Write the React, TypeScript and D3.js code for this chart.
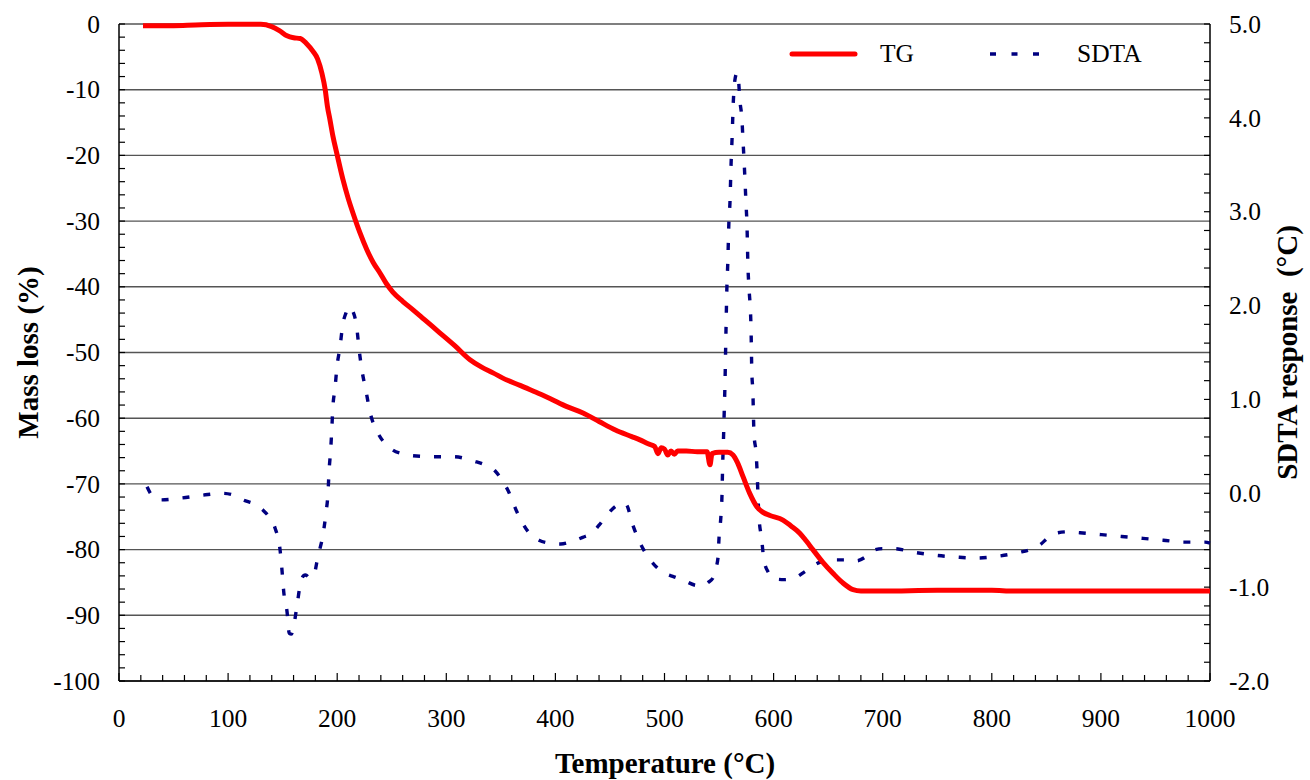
import React from "react";
import * as d3 from "d3";

// Thermogravimetric curve: temperature (°C) and mass loss (%)
const tgTemp = [22, 50, 70, 100, 130, 140, 147, 154, 160, 166, 172, 178, 182, 186, 189, 191, 193.4, 196, 199.8, 205.3, 210, 214.5, 220.9, 227.3, 233, 239.2, 245, 251, 260, 269.5, 280, 294, 308, 321.7, 332, 342.8, 355.6, 367.6, 380, 395, 410, 425.3, 440, 455, 470, 477.5, 485, 491, 494, 497, 500, 503, 506, 509, 512, 520, 530, 539, 541.7, 543.5, 550, 558, 562.8, 567, 572, 578, 584.8, 590, 596.7, 608.6, 616, 624, 630, 636, 645, 654.4, 663, 672.8, 680, 700, 750, 800, 820, 900, 1000];
const tgMass = [-0.25, -0.25, -0.15, -0.05, -0.05, -0.4, -1.0, -1.8, -2.1, -2.2, -3.0, -4.2, -5.3, -7.5, -10, -12.5, -14.6, -17, -19.8, -23.7, -26.5, -28.8, -31.8, -34.4, -36.3, -37.9, -39.5, -40.8, -42.2, -43.5, -45, -47, -49, -51.1, -52.2, -53.1, -54.2, -55, -55.9, -57, -58.2, -59.2, -60.5, -61.8, -62.8, -63.3, -63.9, -64.3, -65.4, -64.5, -64.7, -65.6, -65.0, -65.5, -65.0, -65.0, -65.1, -65.1, -67.1, -65.4, -65.2, -65.2, -65.6, -66.8, -68.9, -71.4, -73.5, -74.3, -74.8, -75.5, -76.4, -77.5, -78.7, -80, -81.9, -83.6, -85, -86.1, -86.3, -86.3, -86.2, -86.2, -86.3, -86.3, -86.3];

// Single differential thermal analysis response (°C)
const sdtaTemp = [25.7, 30, 37.6, 57.7, 77, 95, 105, 113.7, 125, 132, 138, 143, 147.6, 149.4, 151, 154, 156, 158, 160, 163, 166, 169, 171, 175, 178, 182.6, 187, 189.7, 191.6, 192.5, 194, 195, 196, 198, 199.8, 202.6, 205, 208, 211.7, 214, 218, 220, 222.7, 226.4, 230, 237.4, 244, 251, 260, 269.5, 287.8, 306, 326, 336, 344.6, 351, 356.6, 364.8, 375.8, 385, 394, 405, 413.4, 425, 432.6, 440, 447.3, 455, 461, 465, 471, 478.5, 485, 491.3, 500, 508.7, 518, 528, 535, 540, 544.5, 547, 549, 550, 551.8, 552.7, 553.3, 554, 554.7, 555.4, 556.3, 557.2, 558, 559, 560, 561, 562, 563, 564.5, 566.5, 568, 569, 571, 572, 573, 574.7, 575.6, 576.5, 577.4, 579.3, 580, 581, 582, 584, 585, 585.7, 586.6, 589, 591, 595, 600, 610, 619.6, 628, 638, 646, 656, 666, 676, 684, 691, 700, 710, 729.6, 748, 768, 786, 805.7, 825, 835, 844, 852, 860.7, 870, 880.8, 900, 919, 938.6, 957, 976, 995.4, 1000];
const sdtaValue = [0.07, -0.02, -0.07, -0.05, -0.02, 0.0, -0.02, -0.07, -0.12, -0.18, -0.26, -0.37, -0.6, -0.82, -1.05, -1.26, -1.49, -1.5, -1.42, -1.21, -0.98, -0.88, -0.87, -0.9, -0.89, -0.66, -0.44, -0.21, 0.01, 0.23, 0.46, 0.67, 0.91, 1.12, 1.35, 1.56, 1.79, 1.92, 1.99, 1.95, 1.76, 1.54, 1.31, 1.09, 0.87, 0.64, 0.53, 0.46, 0.42, 0.4, 0.39, 0.39, 0.34, 0.3, 0.24, 0.14, 0.03, -0.2, -0.42, -0.5, -0.53, -0.54, -0.52, -0.47, -0.43, -0.34, -0.23, -0.14, -0.1, -0.12, -0.34, -0.55, -0.68, -0.77, -0.85, -0.89, -0.93, -0.98, -0.99, -0.95, -0.9, -0.8, -0.69, -0.47, -0.23, -0.02, 0.3, 0.55, 0.85, 1.15, 1.7, 2.2, 2.45, 2.88, 3.1, 3.5, 3.8, 4.15, 4.4, 4.48, 4.38, 4.2, 3.98, 3.75, 3.53, 3.09, 2.86, 2.41, 2.2, 1.76, 1.31, 1.08, 0.64, 0.42, 0.2, -0.03, -0.25, -0.48, -0.7, -0.84, -0.91, -0.92, -0.9, -0.84, -0.76, -0.72, -0.71, -0.71, -0.72, -0.68, -0.61, -0.59, -0.59, -0.63, -0.66, -0.68, -0.69, -0.67, -0.63, -0.6, -0.55, -0.47, -0.42, -0.41, -0.42, -0.44, -0.46, -0.48, -0.5, -0.52, -0.52, -0.53];

const xTicks = [0, 100, 200, 300, 400, 500, 600, 700, 800, 900, 1000];
const leftTicks = [0, -10, -20, -30, -40, -50, -60, -70, -80, -90, -100];
const rightTicks = [5, 4, 3, 2, 1, 0, -1, -2];

const W = 1310;
const H = 780;
const M = { left: 119, right: 1210, top: 24, bottom: 681 };
const FONT = "'Liberation Serif', 'Times New Roman', serif";

export default function App() {
  const x = d3.scaleLinear().domain([0, 1000]).range([M.left, M.right]);
  const yL = d3.scaleLinear().domain([-100, 0]).range([M.bottom, M.top]);
  const yR = d3.scaleLinear().domain([-2, 5]).range([M.bottom, M.top]);

  const tgLine = d3
    .line<number>()
    .x((_, i) => x(tgTemp[i]))
    .y((d) => yL(d))
    .curve(d3.curveMonotoneX);
  const sdtaLine = d3
    .line<number>()
    .x((_, i) => x(sdtaTemp[i]))
    .y((d) => yR(d))
    .curve(d3.curveMonotoneX);

  const xMinor = d3.range(0, 1001, 20);
  const leftMinor = d3.range(-100, 0.1, 2);
  const rightMinor = d3.range(-2, 5.01, 0.2);

  return (
    <svg
      width={W}
      height={H}
      style={{ position: "absolute", left: 0, top: 0, background: "#fff" }}
      fontFamily={FONT}
    >
      {/* horizontal grid */}
      {leftTicks.map((t) => (
        <line key={"g" + t} x1={M.left} x2={M.right} y1={yL(t)} y2={yL(t)} stroke="#555" strokeWidth={1.4} />
      ))}

      {/* axis lines */}
      <line x1={M.left} x2={M.left} y1={M.top} y2={M.bottom} stroke="#000" strokeWidth={1.5} />
      <line x1={M.right} x2={M.right} y1={M.top} y2={M.bottom} stroke="#000" strokeWidth={1.5} />
      <line x1={M.left} x2={M.right} y1={M.bottom} y2={M.bottom} stroke="#000" strokeWidth={1.5} />

      {/* tick marks */}
      {xMinor.map((t) => (
        <line key={"xm" + t} x1={x(t)} x2={x(t)} y1={M.bottom} y2={M.bottom - (t % 100 === 0 ? 8 : 6)} stroke="#000" strokeWidth={1.2} />
      ))}
      {leftMinor.map((t) => (
        <line key={"lm" + t} x1={M.left} x2={M.left + 6} y1={yL(t)} y2={yL(t)} stroke="#000" strokeWidth={1.2} />
      ))}
      {rightMinor.map((t) => (
        <line key={"rm" + t} x1={M.right} x2={M.right - 6} y1={yR(t)} y2={yR(t)} stroke="#000" strokeWidth={1.2} />
      ))}

      {/* tick labels */}
      {xTicks.map((t) => (
        <text key={"xl" + t} x={x(t)} y={727} fontSize={25.5} textAnchor="middle">
          {t}
        </text>
      ))}
      {leftTicks.map((t) => (
        <text key={"ll" + t} x={100} y={yL(t)} dy="0.34em" fontSize={25.5} textAnchor="end">
          {t}
        </text>
      ))}
      {rightTicks.map((t) => (
        <text key={"rl" + t} x={1229} y={yR(t)} dy="0.34em" fontSize={25.5} textAnchor="start">
          {t.toFixed(1)}
        </text>
      ))}

      {/* axis titles */}
      <text x={665} y={773} fontSize={29} fontWeight="bold" textAnchor="middle">
        Temperature (°C)
      </text>
      <text
        transform={`translate(28,${(M.top + M.bottom) / 2}) rotate(-90)`}
        fontSize={29}
        fontWeight="bold"
        textAnchor="middle"
        dy="0.35em"
      >
        Mass loss (%)
      </text>
      <text
        transform={`translate(1287,${(M.top + M.bottom) / 2}) rotate(-90)`}
        fontSize={29}
        fontWeight="bold"
        textAnchor="middle"
        dy="0.35em"
        style={{ whiteSpace: "pre" }}
      >
        {"SDTA response  (°C)"}
      </text>

      {/* series */}
      <path d={sdtaLine(sdtaValue) || ""} fill="none" stroke="#000080" strokeWidth={3.4} strokeDasharray="7,14" />
      <path d={tgLine(tgMass) || ""} fill="none" stroke="#ff0000" strokeWidth={5} strokeLinejoin="round" />

      {/* legend */}
      <line x1={792} x2={855} y1={54} y2={54} stroke="#ff0000" strokeWidth={5} strokeLinecap="round" />
      <text x={880} y={62} fontSize={25.5}>TG</text>
      <line x1={990} x2={1039} y1={54} y2={54} stroke="#000080" strokeWidth={3.4} strokeDasharray="6,15.5" />
      <text x={1077} y={62} fontSize={25.5}>SDTA</text>
    </svg>
  );
}
